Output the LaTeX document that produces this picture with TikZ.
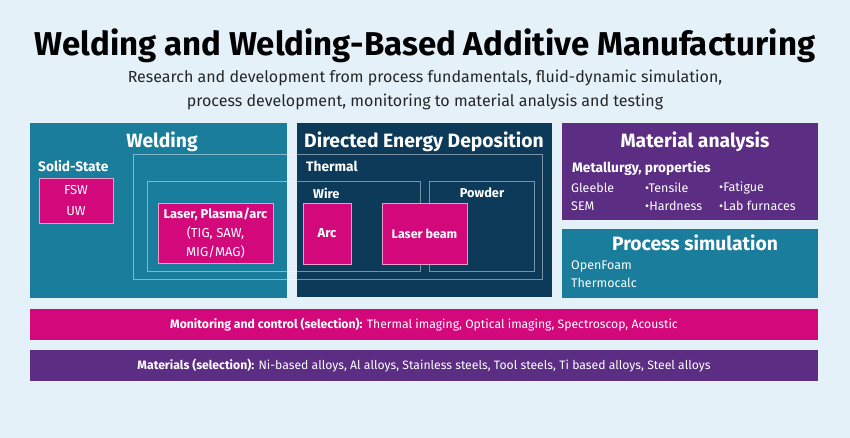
\documentclass[tikz,border=0pt]{standalone}
\usepackage{fontspec}
\setmainfont{Fira Sans}
\definecolor{bgc}{HTML}{E4F1F9}
\definecolor{tealc}{HTML}{1A7D9C}
\definecolor{navyc}{HTML}{0C3A58}
\definecolor{purc}{HTML}{5B2D83}
\definecolor{magc}{HTML}{D2087B}
\tikzset{
  panel/.style={anchor=north west, inner sep=0pt, outer sep=0pt, draw=none},
  frame/.style={anchor=north west, inner sep=0pt, outer sep=0pt, draw=white, draw opacity=0.45, line width=0.9pt},
  pinkbox/.style={anchor=north west, inner sep=0pt, outer sep=0pt, fill=magc, draw=white!60!magc, line width=0.8pt, text=white, align=center},
  wtxt/.style={text=white, inner sep=0pt},
  ptitle/.style={wtxt, font=\fontsize{19.3}{22}\selectfont\bfseries},
  plabel/.style={wtxt, anchor=west, font=\fontsize{13.7}{16}\selectfont\bfseries},
  ptext/.style={wtxt, anchor=west, font=\fontsize{12.5}{15}\selectfont},
  bartxt/.style={wtxt, font=\fontsize{12.2}{14}\selectfont}
}
\begin{document}
\begin{tikzpicture}[x=1pt,y=-1pt]
\fill[bgc] (0,0) rectangle (850,438);
\useasboundingbox (0,0) rectangle (850,438);
% title
\node[inner sep=0pt, font=\fontsize{33}{38}\selectfont\bfseries] (title) at (425,46) {Welding and Welding-Based Additive Manufacturing};
\node[inner sep=0pt, font=\fontsize{16}{24}\selectfont, align=center, text=black!85] (sub) at (425,90) {Research and development from process fundamentals, fluid-dynamic simulation,\\process development, monitoring to material analysis and testing};
% panels
\node[panel, fill=tealc, minimum width=257pt, minimum height=175pt] (weld) at (30,123) {};
\node[panel, fill=navyc, minimum width=255pt, minimum height=174pt] (ded) at (297,123) {};
\node[panel, fill=purc, minimum width=256pt, minimum height=97pt] (mat) at (562,123) {};
\node[panel, fill=tealc, minimum width=256pt, minimum height=69pt] (sim) at (562,229) {};
% frames
\node[frame, minimum width=409pt, minimum height=125pt] (thermal) at (133,154) {};
\node[frame, minimum width=273pt, minimum height=90pt] (wire) at (147,181) {};
\node[frame, minimum width=105pt, minimum height=90pt] (powder) at (429,181) {};
% titles
\node[ptitle] (weldt) at (162,142) {Welding};
\node[ptitle] (dedt) at (424,142) {Directed Energy Deposition};
\node[ptitle] (matt) at (695,142) {Material analysis};
\node[ptitle] (simt) at (695,243) {Process simulation};
% labels
\node[plabel] (ss) at (38,166) {Solid-State};
\node[plabel] (thl) at (306,166) {Thermal};
\node[plabel, font=\fontsize{12.8}{15}\selectfont\bfseries] (wl) at (313,193) {Wire};
\node[plabel, font=\fontsize{12.8}{15}\selectfont\bfseries, anchor=center] (pl) at (482,193) {Powder};
% pink boxes
\node[pinkbox, minimum width=74pt, minimum height=45pt, font=\fontsize{13}{21}\selectfont] (fsw) at (39,178) {FSW\\UW};
\node[pinkbox, minimum width=115pt, minimum height=60pt] (lpa) at (158,203) {};
\node[wtxt, align=center, font=\fontsize{13}{19}\selectfont] (lpat) at (lpa.center) {{\bfseries\fontsize{12.9}{19}\selectfont Laser, Plasma/arc}\\(TIG, SAW,\\MIG/MAG)};
\node[pinkbox, minimum width=48pt, minimum height=61pt, font=\fontsize{13}{16}\selectfont\bfseries] (arc) at (303,203) {Arc};
\node[pinkbox, minimum width=85pt, minimum height=61pt, font=\fontsize{12.5}{16}\selectfont\bfseries] (lb) at (382,203) {Laser beam};
% material analysis
\node[plabel] (met) at (572,168) {Metallurgy, properties};
\node[ptext] (gl) at (571,188) {Gleeble};
\node[ptext] (sem) at (571,206) {SEM};
\node[ptext] (ten) at (645,188) {\textbullet Tensile};
\node[ptext] (har) at (645,206) {\textbullet Hardness};
\node[ptext] (fat) at (719,188) {\textbullet Fatigue};
\node[ptext] (lab) at (719,206) {\textbullet Lab furnaces};
% simulation
\node[ptext] (of) at (571,266) {OpenFoam};
\node[ptext] (tc) at (571,283) {Thermocalc};
% bars
\node[panel, fill=magc, minimum width=788pt, minimum height=31pt] (mon) at (30,309) {};
\node[bartxt] (mont) at (mon.center) {\textbf{Monitoring and control (selection):} Thermal imaging, Optical imaging, Spectroscop, Acoustic};
\node[panel, fill=purc, minimum width=788pt, minimum height=31pt] (mats) at (30,350) {};
\node[bartxt] (matst) at (mats.center) {\textbf{Materials (selection):} Ni-based alloys, Al alloys, Stainless steels, Tool steels, Ti based alloys, Steel alloys};
\end{tikzpicture}
\end{document}
